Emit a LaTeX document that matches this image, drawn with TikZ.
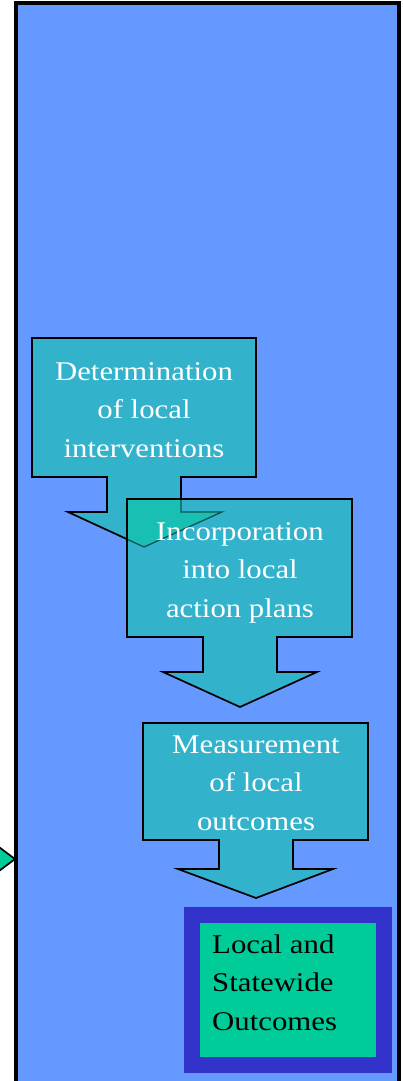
\documentclass[tikz,border=0pt]{standalone}
\usepackage{fontspec}
\newfontfamily\garfont[FakeStretch=1.14]{Liberation Serif}
\definecolor{panelblue}{HTML}{6699FF}
\definecolor{calloutteal}{HTML}{33B2CC}
\definecolor{mintgreen}{HTML}{00CC99}
\definecolor{deepblue}{HTML}{3333CC}
\definecolor{overlapgreen}{HTML}{1ABFB4}
\tikzset{
  panel/.style={fill=panelblue, draw=black, line width=3.4pt},
  callout/.style={fill=calloutteal, draw=black, line width=1.7pt, line join=miter},
  calltext/.style={text=white, font=\garfont\fontsize{27}{38.5}\selectfont, align=center, inner sep=0pt},
  outtext/.style={text=black, font=\garfont\fontsize{27}{38.5}\selectfont, align=left, inner sep=0pt},
  pointer/.style={fill=mintgreen, draw=black, line width=1.7pt},
}
\begin{document}
\begin{tikzpicture}[x=1pt, y=-1pt]
  \useasboundingbox (0,0) rectangle (403,1081);
  \begin{scope}
    \clip (0,0) rectangle (403,1081);
    % main panel, running past the lower edge
    \draw[panel] (16,3) rectangle (399,1095);
    % incoming pointer at the left edge
    \draw[pointer] (-5,844) -- (15,859) -- (-5,874);
  \end{scope}

  % callout 1
  \draw[callout] (32,338) -- (256,338) -- (256,477) -- (181,477) -- (181,512)
    -- (222,512) -- (144,547) -- (68,512) -- (107,512) -- (107,477) -- (32,477) -- cycle;
  % callout 2
  \draw[callout] (127,499) -- (352,499) -- (352,637) -- (277,637) -- (277,672)
    -- (317,672) -- (240,707) -- (163,672) -- (203,672) -- (203,637) -- (127,637) -- cycle;
  % where the first arrow overlaps the second box
  \begin{scope}
    \clip (127,499) rectangle (352,637);
    \fill[overlapgreen] (181,477) -- (181,512) -- (222,512) -- (144,547) -- (68,512)
      -- (107,512) -- (107,477) -- cycle;
    \draw[black, opacity=0.55, line width=1.3pt] (181,499) -- (181,512) -- (222,512)
      -- (144,547) -- (68,512);
  \end{scope}
  \draw[black, line width=1.7pt] (127,637) -- (127,499) -- (352,499);
  % callout 3
  \draw[callout] (143,723) -- (368,723) -- (368,840) -- (293,840) -- (293,869)
    -- (333,869) -- (256,898) -- (178,869) -- (219,869) -- (219,840) -- (143,840) -- cycle;

  % outcome box
  \fill[deepblue] (184,907) rectangle (392,1073);
  \fill[mintgreen] (200,923) rectangle (376,1057);

  % labels, placed by the baseline of their last line
  \node[calltext, anchor=base] (determ) at (144,457)
    {Determination\\of local\\interventions};
  \node[calltext, anchor=base] (incorp) at (240,617)
    {Incorporation\\into local\\action plans};
  \node[calltext, anchor=base] (measure) at (256,830)
    {Measurement\\of local\\outcomes};
  \node[outtext, anchor=base west] (outcomes) at (212,1030)
    {Local and\\Statewide\\Outcomes};
\end{tikzpicture}
\end{document}
